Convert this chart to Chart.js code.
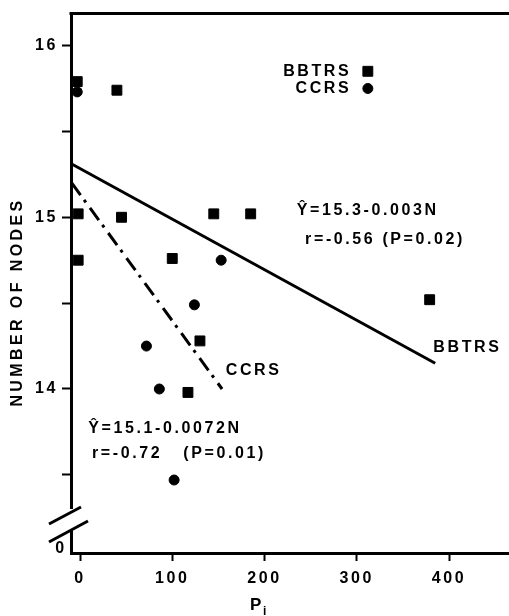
<!DOCTYPE html>
<html>
<head>
<meta charset="utf-8">
<script src="https://cdn.jsdelivr.net/npm/chart.js@4.4.1/dist/chart.umd.min.js"></script>
<style>
	html, body { margin: 0; padding: 0; background: #fff; }
	#wrap { width: 509px; height: 616px; }
</style>
</head>
<body>
<div id="wrap"><canvas id="chart" width="509" height="616"></canvas></div>
<script>
// 読み取り値: P_i と NUMBER OF NODES
const bbtrsX = [-3, 40, -2, 45, -2, 100, 145, 185, 379, 130, 117];
const bbtrsY = [15.79, 15.74, 15.02, 15.0, 14.75, 14.76, 15.02, 15.02, 14.52, 14.28, 13.98];
const ccrsX = [-3, 153, 124, 72, 86, 102];
const ccrsY = [15.73, 14.75, 14.49, 14.25, 14.0, 13.47];

// 回帰直線の両端（図から読んだ値）
const bbtrsFitX = [-9, 385];
const bbtrsFitY = [15.31, 14.15];
const ccrsFitX = [-9, 154];
const ccrsFitY = [15.2, 14.0];

const xTicks = [0, 100, 200, 300, 400];
const yTicks = [13.5, 14, 14.5, 15, 15.5, 16];
const yLabelled = [14, 15, 16];

const FONT = '"Liberation Sans", Arial, sans-serif';
const INK = '#000';

// 注記（データ座標で配置）
const notes = [
	{ text: 'BBTRS', x: 294, y: 15.85, align: 'right' },
	{ text: 'CCRS', x: 294, y: 15.75, align: 'right' },
	{ text: 'Ŷ=15.3-0.003N', x: 235, y: 15.04, align: 'left' },
	{ text: 'r=-0.56 (P=0.02)', x: 244, y: 14.87, align: 'left' },
	{ text: 'BBTRS', x: 383, y: 14.24, align: 'left' },
	{ text: 'CCRS', x: 158, y: 14.11, align: 'left' },
	{ text: 'Ŷ=15.1-0.0072N', x: 9, y: 13.77, align: 'left' },
	{ text: 'r=-0.72   (P=0.01)', x: 13, y: 13.625, align: 'left' },
];

const zip = (xs, ys) => xs.map((x, i) => ({ x, y: ys[i] }));

const drawText = (ctx, text, x, y, align, size = 16, spacing = 2.6) => {
	ctx.save();
	ctx.font = `bold ${size}px ${FONT}`;
	ctx.letterSpacing = `${spacing}px`;
	ctx.fillStyle = INK;
	ctx.textAlign = align;
	ctx.textBaseline = 'middle';
	ctx.fillText(text, x, y);
	ctx.restore();
};

const framePlugin = {
	id: 'frame',
	beforeDraw(chart) {
		chart.ctx.letterSpacing = '2.6px';
	},
	afterDraw(chart) {
		const { ctx, chartArea: a, scales: { x, y } } = chart;
		ctx.save();
		ctx.letterSpacing = '0px';
		ctx.strokeStyle = INK;
		ctx.lineWidth = 3;
		// 上辺
		ctx.beginPath();
		ctx.moveTo(a.left - 1.5, a.top);
		ctx.lineTo(a.right, a.top);
		ctx.stroke();
		// 縦軸の省略記号
		ctx.fillStyle = '#fff';
		ctx.fillRect(a.left - 6, a.bottom - 44, 12, 22);
		ctx.beginPath();
		ctx.moveTo(a.left - 22, a.bottom - 29);
		ctx.lineTo(a.left + 10, a.bottom - 46);
		ctx.moveTo(a.left - 22, a.bottom - 11);
		ctx.lineTo(a.left + 17, a.bottom - 32);
		ctx.stroke();
		ctx.restore();

		drawText(ctx, '0', a.left - 10, a.bottom - 4, 'center');

		notes.forEach((n) => {
			drawText(ctx, n.text, x.getPixelForValue(n.x), y.getPixelForValue(n.y), n.align);
		});

		// 凡例マーカー
		const mx = x.getPixelForValue(312);
		Chart.helpers.drawPoint(ctx, { pointStyle: 'rect', radius: 7, borderWidth: 1 }, mx, y.getPixelForValue(15.85));
		Chart.helpers.drawPoint(ctx, { pointStyle: 'circle', radius: 5, borderWidth: 1 }, mx, y.getPixelForValue(15.75));

		// 軸タイトル
		ctx.save();
		ctx.translate(18, 302);
		ctx.rotate(-Math.PI / 2);
		drawText(ctx, 'NUMBER OF NODES', 0, 0, 'center', 16, 3.4);
		ctx.restore();
		drawText(ctx, 'P', 250, 605, 'left', 17, 0);
		drawText(ctx, 'i', 263, 612, 'left', 12, 0);
	},
};

const pointSet = (label, data, style, radius) => ({
	label,
	data,
	pointStyle: style,
	pointRadius: radius,
	pointBackgroundColor: INK,
	pointBorderColor: INK,
	pointBorderWidth: 1,
	showLine: false,
});

const fitSet = (label, data, dash) => ({
	label,
	data,
	showLine: true,
	borderColor: INK,
	borderWidth: 3,
	borderDash: dash,
	pointRadius: 0,
});

new Chart(document.getElementById('chart'), {
	type: 'scatter',
	data: {
		datasets: [
			fitSet('BBTRS fit', zip(bbtrsFitX, bbtrsFitY), []),
			fitSet('CCRS fit', zip(ccrsFitX, ccrsFitY), [15, 6, 3, 7]),
			pointSet('BBTRS', zip(bbtrsX, bbtrsY), 'rect', 7),
			pointSet('CCRS', zip(ccrsX, ccrsY), 'circle', 5),
		],
	},
	options: {
		responsive: false,
		animation: false,
		layout: { autoPadding: false, padding: { top: 12, right: 0, left: 0, bottom: 0 } },
		plugins: {
			legend: { display: false },
			tooltip: { enabled: false },
		},
		scales: {
			x: {
				type: 'linear',
				min: -9.76,
				max: 465,
				afterBuildTicks: (s) => { s.ticks = xTicks.map((v) => ({ value: v })); },
				afterFit: (s) => { s.height = 63; },
				border: { display: true, color: INK, width: 3 },
				grid: { drawOnChartArea: false, drawTicks: true, tickLength: 8, tickWidth: 2, tickColor: INK },
				ticks: {
					color: INK,
					padding: 8,
					maxRotation: 0,
					font: { family: FONT, size: 16, weight: 'bold' },
					callback: (v) => String(v),
				},
			},
			y: {
				type: 'linear',
				min: 13.045,
				max: 16.186,
				afterBuildTicks: (s) => { s.ticks = yTicks.map((v) => ({ value: v })); },
				afterFit: (s) => { s.width = 71; },
				border: { display: true, color: INK, width: 3 },
				grid: { drawOnChartArea: false, drawTicks: true, tickLength: 9, tickWidth: 2, tickColor: INK },
				ticks: {
					color: INK,
					padding: 4,
					font: { family: FONT, size: 16, weight: 'bold' },
					callback: (v) => (yLabelled.includes(v) ? String(v) : ''),
				},
			},
		},
	},
	plugins: [framePlugin],
});
</script>
</body>
</html>
